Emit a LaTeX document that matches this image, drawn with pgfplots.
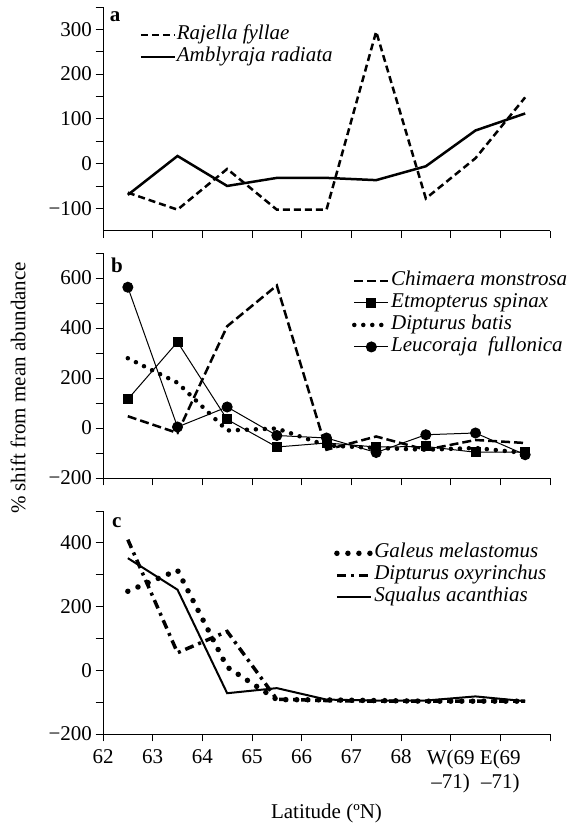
\documentclass[border=0pt]{standalone}
\usepackage{fontspec}
\setmainfont{Liberation Serif}
\usepackage{pgfplots}
\usepackage{pgfplotstable}
\pgfplotsset{compat=1.18}
\newcommand\bigf{\fontsize{21}{24}\selectfont}

% panel a
\pgfplotstableread{
x   raj   amb
0.5 -65   -70
1.5 -103  17
2.5 -12   -50
3.5 -103  -32
4.5 -103  -32
5.5 295   -37
6.5 -78   -6
7.5 12    74
8.5 148   112
}\tabA
% panel b
\pgfplotstableread{
x   chi  etm  dip  leu
0.5 47   115  279  563
1.5 -20  344  181  4
2.5 407  34   -10  84
3.5 570  -76  -2   -30
4.5 -87  -60  -70  -40
5.5 -34  -76  -80  -98
6.5 -87  -74  -87  -27
7.5 -48  -97  -80  -20
8.5 -60  -97  -100 -107
}\tabB
% panel c
\pgfplotstableread{
x   gal  dox  squ
0.5 248  410  352
1.5 314  55   253
2.5 10   122  -72
3.5 -92  -91  -56
4.5 -93  -95  -92
5.5 -95  -97  -95
6.5 -97  -97  -95
7.5 -97  -97  -82
8.5 -97  -97  -97
}\tabC

\tikzset{letter/.style={font=\bigf\bfseries, anchor=center}}
\pgfplotsset{
  panel/.style={
    scale only axis, width=447pt, xmin=0, xmax=9,
    axis lines*=left, axis line style={line width=0.8pt},
    tick style={line width=0.8pt, black}, tick align=outside,
    major tick length=7.5pt, minor tick length=7.5pt,
    xtick={0,...,9}, xticklabels={},
    tick label style={font=\bigf},
    label style={font=\bigf},
    legend cell align=left,
    legend style={draw=none, fill=none, font=\bigf\itshape, anchor=north west,
      nodes={inner sep=0.5pt, text height=14pt, text depth=5pt}, row sep=2pt},
    legend image code/.code={\draw[mark repeat=2,mark phase=2,##1] plot coordinates {(0cm,0cm) (0.6cm,0cm) (1.2cm,0cm)};},
  },
}

\begin{document}
\begin{tikzpicture}
% panel a
\begin{axis}[panel, at={(103pt,595.3pt)}, anchor=south west, height=223.7pt,
  ymin=-150, ymax=350,
  ytick={-100,0,...,300}, yticklabels={−100,0,100,200,300},
  minor ytick={-50,50,150,250,350},
  legend style={at={(0.075,0.93)}}]
\addplot[black, line width=2.5pt, dash pattern=on 7pt off 4pt] table[x=x,y=raj] {\tabA};
\addplot[black, line width=2.5pt] table[x=x,y=amb] {\tabA};
\legend{Rajella fyllae, Amblyraja radiata}
\node[letter] at (axis description cs:0.027,0.955) {a};
\end{axis}
% panel b
\begin{axis}[panel, at={(103pt,348pt)}, anchor=south west, height=225pt,
  ymin=-200, ymax=700,
  ytick={-200,0,...,600}, yticklabels={−200,0,200,400,600},
  minor ytick={-100,100,300,500,700},
  legend style={at={(0.55,0.93)}}]
\addplot[black, line width=2.5pt, dash pattern=on 9pt off 4pt] table[x=x,y=chi] {\tabB};
\addplot[black, line width=1pt, mark=square*, mark size=4.5pt] table[x=x,y=etm] {\tabB};
\addplot[black, line width=4.5pt, line cap=round, dash pattern=on 0pt off 9pt] table[x=x,y=dip] {\tabB};
\addplot[black, line width=1pt, mark=*, mark size=5pt] table[x=x,y=leu] {\tabB};
\legend{Chimaera monstrosa, Etmopterus spinax, Dipturus batis, Leucoraja\ \ fullonica}
\node[letter] at (axis description cs:0.031,0.947) {b};
\end{axis}
% panel c
\begin{axis}[panel, at={(103pt,92pt)}, anchor=south west, height=223pt,
  ymin=-200, ymax=500,
  ytick={-200,0,...,400}, yticklabels={−200,0,200,400},
  minor ytick={-100,100,300,500},
  xticklabels={62,63,64,65,66,67,68,{W(69\\–71)},{E(69\\–71)},{}},
  xticklabel style={align=center, yshift=-5pt},
  xlabel={Latitude (ºN)}, xlabel style={yshift=-4pt},
  legend style={at={(0.51,0.865)}}]
\addplot[black, line width=5.5pt, line cap=round, dash pattern=on 0pt off 11pt] table[x=x,y=gal] {\tabC};
\addplot[black, line width=3.5pt, dash pattern=on 9pt off 5pt on 3pt off 5pt] table[x=x,y=dox] {\tabC};
\addplot[black, line width=2pt] table[x=x,y=squ] {\tabC};
\legend{Galeus melastomus, Dipturus oxyrinchus, Squalus acanthias}
\node[letter] at (axis description cs:0.031,0.95) {c};
\end{axis}
\node[rotate=90, font=\bigf] at (18pt,438pt) {\% shift from mean abundance};
\pgfresetboundingbox
\path (0,0) rectangle (582pt,826pt);
\end{tikzpicture}
\end{document}
